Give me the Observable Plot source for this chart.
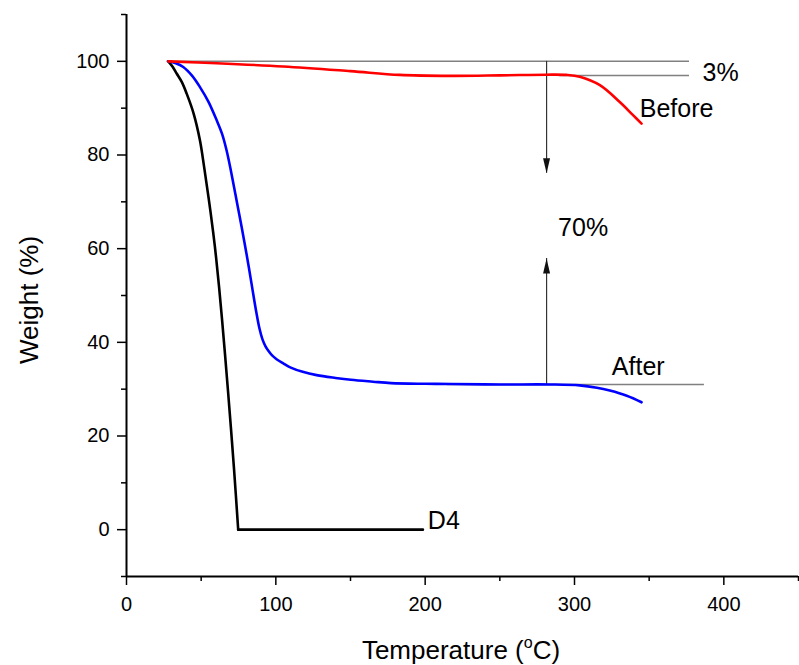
<!DOCTYPE html>
<html>
<head>
<meta charset="utf-8">
<script src="https://cdn.jsdelivr.net/npm/d3@7"></script>
<script src="https://cdn.jsdelivr.net/npm/@observablehq/plot@0.6"></script>
<style>
  html, body { margin: 0; padding: 0; background: #fff; }
  #chart svg { display: block; }
</style>
</head>
<body>
<div id="chart"></div>
<script>
// ---- Data ----
const d4Temp   = [28, 31, 33.6, 37, 40.3, 45, 49.2, 52, 55, 58, 60, 62, 64, 66, 68, 70, 72, 74.8, 100, 150, 198.5];
const d4Weight = [100, 98.8, 97.4, 95.6, 93.1, 88.8, 83.1, 77.4, 70.8, 63.6, 58.1, 51.8, 44.8, 37.3, 29.5, 21.4, 13.0, 0, 0, 0, 0];

const afterTemp   = [28, 33, 38, 44, 49.2, 55, 60.4, 64, 67, 70, 73, 76, 79, 81.5, 84, 87, 89, 91, 93, 95, 97.5, 100.5, 105, 110, 118, 127.3, 140, 150.3, 165, 177.1, 200, 217.3, 250, 284.2, 303.5, 315, 323.6, 335, 344.9];
const afterWeight = [100, 99.6, 98.8, 96.9, 94.5, 91.3, 87.4, 84.5, 81, 76.5, 71.5, 66.5, 61.3, 56.8, 52, 46.3, 43, 40.7, 39.2, 38.2, 37.2, 36.4, 35.5, 34.6, 33.7, 33, 32.4, 32, 31.6, 31.3, 31.15, 31.1, 31.0, 31.0, 30.8, 30.3, 29.7, 28.6, 27.2];

const beforeTemp   = [28, 60.4, 105, 150, 183, 216.5, 250, 281, 294.6, 303.5, 317, 330.3, 339.2, 344.9];
const beforeWeight = [100, 99.6, 98.9, 97.9, 97.1, 96.9, 97.0, 97.15, 97.1, 96.7, 94.9, 91.3, 88.5, 86.7];

// reference (guide) lines
const guideLines = [
  {t1: 27, t2: 377, w: 100},
  {t1: 290, t2: 377, w: 97.0},
  {t1: 215, t2: 387, w: 31.0}
];
// arrows: x, start, tip
const arrows = [
  {t: 281.3, from: 100, to: 76.1, dir: "down"},
  {t: 281.3, from: 31.0, to: 57.9, dir: "up"}
];
// annotation labels
const labels     = ["3%", "Before", "70%", "After", "D4"];
const labelTemp  = [385.7, 343.7, 289, 325, 201.8];
const labelWt    = [95.7, 88.2, 62.8, 33.1, 0.2];

const xMajor = [0, 100, 200, 300, 400];
const xMinor = [50, 150, 250, 350, 450];
const yMajor = [0, 20, 40, 60, 80, 100];
const yMinor = [-10, 10, 30, 50, 70, 90, 110];

// ---- build tables ----
const d4 = d4Temp.map((t, i) => ({t, w: d4Weight[i]}));
const d4Drop = d4.filter(d => d.t <= 74.8);
const d4Flat = d4.filter(d => d.t >= 74.8);
const after = afterTemp.map((t, i) => ({t, w: afterWeight[i]}));
const before = beforeTemp.map((t, i) => ({t, w: beforeWeight[i]}));
const labelData = labels.map((s, i) => ({s, t: labelTemp[i], w: labelWt[i]}));

const headDown = {draw(ctx) { ctx.moveTo(0, 0); ctx.lineTo(-3.5, -15); ctx.lineTo(3.5, -15); ctx.closePath(); }};
const headUp   = {draw(ctx) { ctx.moveTo(0, 0); ctx.lineTo(-3.5, 15); ctx.lineTo(3.5, 15); ctx.closePath(); }};

const FONT = "'Liberation Sans', Arial, Helvetica, sans-serif";

const chart = Plot.plot({
  width: 799,
  height: 665,
  marginLeft: 126,
  marginRight: 1,
  marginTop: 14,
  marginBottom: 89,
  style: {fontFamily: FONT, background: "#fff", color: "#000"},
  x: {domain: [0, 450]},
  y: {domain: [-10, 110]},
  marks: [
    Plot.ruleY(guideLines, {y: "w", x1: "t1", x2: "t2", stroke: "#808080", strokeWidth: 1.5}),
    Plot.ruleX(arrows, {x: "t", y1: "from", y2: "to", stroke: "#333", strokeWidth: 1.2}),
    Plot.dot(arrows.filter(a => a.dir === "down"), {x: "t", y: "to", symbol: headDown, fill: "#111", stroke: "none"}),
    Plot.dot(arrows.filter(a => a.dir === "up"), {x: "t", y: "to", symbol: headUp, fill: "#111", stroke: "none"}),
    Plot.line(d4Drop, {x: "t", y: "w", stroke: "#000", strokeWidth: 2.6, curve: "catmull-rom"}),
    Plot.line(d4Flat, {x: "t", y: "w", stroke: "#000", strokeWidth: 2.6, curve: "linear"}),
    Plot.line(after, {x: "t", y: "w", stroke: "#0000ff", strokeWidth: 2.6, curve: "catmull-rom"}),
    Plot.line(before, {x: "t", y: "w", stroke: "#ff0000", strokeWidth: 2.6, curve: "catmull-rom"}),
    Plot.text(labelData, {x: "t", y: "w", text: "s", textAnchor: "start", lineAnchor: "bottom", fontSize: 25, fill: "#000"}),
    Plot.axisX({ticks: xMajor, tickSize: 9, tickPadding: 11, fontSize: 20, strokeWidth: 1.5, label: null, tickFormat: d => String(d)}),
    Plot.axisX({ticks: xMinor, tickSize: 5, strokeWidth: 1.5, label: null, tickFormat: () => ""}),
    Plot.axisY({ticks: yMajor, tickSize: 9, tickPadding: 8, fontSize: 20, strokeWidth: 1.5, label: null, tickFormat: d => String(d)}),
    Plot.axisY({ticks: yMinor, tickSize: 5, strokeWidth: 1.5, label: null, tickFormat: () => ""}),
    Plot.ruleX([0], {stroke: "#000", strokeWidth: 2}),
    Plot.ruleY([-10], {stroke: "#000", strokeWidth: 2})
  ]
});

document.getElementById("chart").appendChild(chart);

// axis titles
const svg = d3.select(chart);
const xt = svg.append("text")
  .attr("x", 461).attr("y", 659)
  .attr("text-anchor", "middle")
  .attr("font-size", 26)
  .attr("font-family", FONT)
  .attr("fill", "#000");
xt.append("tspan").text("Temperature (");
xt.append("tspan").attr("font-size", 16).attr("dy", -11).text("o");
xt.append("tspan").attr("dy", 11).text("C)");

svg.append("text")
  .attr("transform", "translate(38,300) rotate(-90)")
  .attr("text-anchor", "middle")
  .attr("font-size", 26)
  .attr("font-family", FONT)
  .attr("fill", "#000")
  .text("Weight (%)");
</script>
</body>
</html>
